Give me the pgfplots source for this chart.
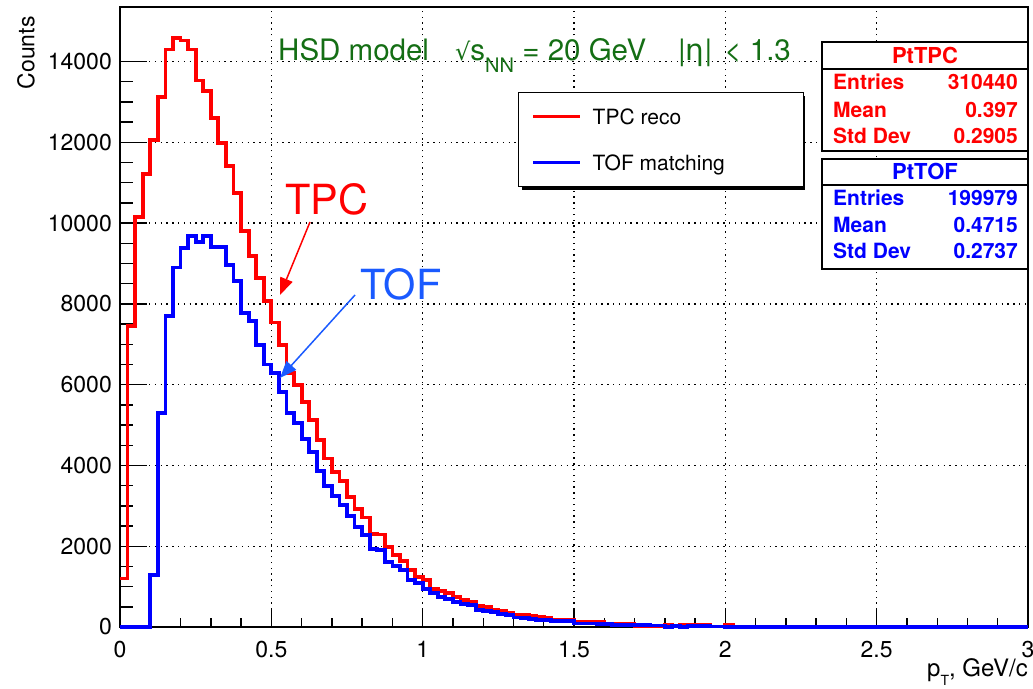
\documentclass[border=0pt]{standalone}
\usepackage{fontspec}
\setmainfont{TeX Gyre Heros}
\newfontfamily\dejavu{DejaVu Sans}
\usepackage{pgfplots}
\pgfplotsset{compat=1.18}
\usepackage{pgfplotstable}
\usetikzlibrary{arrows.meta}
\definecolor{histred}{RGB}{255,0,0}
\definecolor{histblue}{RGB}{0,0,255}
\definecolor{tofblue}{RGB}{26,90,255}
\definecolor{titlegreen}{RGB}{20,110,20}

\pgfplotstableread{
x tpc tof
0.000 1200 0
0.025 7460 0
0.050 10150 0
0.075 11220 0
0.100 12050 1290
0.125 13120 5290
0.150 14300 7700
0.175 14580 8900
0.200 14520 9380
0.225 14300 9680
0.250 13530 9540
0.275 13280 9680
0.300 12600 9400
0.325 11990 9400
0.350 11420 8960
0.375 10740 8570
0.400 9800 7780
0.425 9190 7570
0.450 8640 6980
0.475 8070 6500
0.500 7540 6280
0.525 6990 5810
0.550 6280 5300
0.575 5990 5055
0.600 5575 4660
0.625 5120 4330
0.650 4635 3855
0.675 4170 3490
0.700 3840 3250
0.725 3620 3030
0.750 3220 2740
0.775 2930 2478
0.800 2710 2272
0.825 2310 1941
0.850 2290 1916
0.875 1980 1611
0.900 1775 1512
0.925 1630 1404
0.950 1405 1156
0.975 1240 1090
1.000 1155 950
1.025 950 843
1.050 890 743
1.075 845 702
1.100 745 620
1.125 660 562
1.150 620 545
1.175 520 413
1.200 495 396
1.225 430 372
1.250 395 314
1.275 345 290
1.300 310 235
1.325 290 231
1.350 265 190
1.375 245 180
1.400 225 175
1.425 185 150
1.450 180 150
1.475 175 145
1.500 125 85
1.525 125 85
1.550 120 85
1.575 120 80
1.600 85 80
1.625 85 40
1.650 80 40
1.675 80 40
1.700 30 40
1.725 25 40
1.750 30 35
1.775 20 35
1.800 40 0
1.825 35 20
1.850 40 0
1.875 40 15
1.900 50 15
1.925 45 15
1.950 10 10
1.975 10 10
2.000 50 0
2.025 10 0
2.050 0 0
3.000 0 0
}\histdata

\begin{document}
\begin{tikzpicture}
\useasboundingbox (0,0) rectangle (1033pt,688pt);
% legend shadow (drawn beneath the legend box)
\begin{scope}[x=1pt,y=-1pt,shift={(0pt,688pt)}]
  \fill[black] (522,96) rectangle (805,190);
\end{scope}
\begin{axis}[
  scale only axis,
  width=908pt, height=620pt,
  at={(120pt,61pt)}, anchor=south west,
  xmin=0, xmax=3, ymin=0, ymax=15350,
  clip=false,
  xtick={0,0.5,...,3},
  ytick={0,2000,...,14000},
  minor x tick num=4,
  minor y tick num=3,
  tick pos=left,
  tick align=inside,
  xtick style={/pgfplots/major tick length=18pt,/pgfplots/minor tick length=9pt,line width=1.4pt,black},
  ytick style={/pgfplots/major tick length=27pt,/pgfplots/minor tick length=13.5pt,line width=1.4pt,black},
  axis line style={line width=1.6pt},
  grid=major,
  major grid style={black,line width=1.4pt,dash pattern=on 1.4pt off 4.4pt},
  scaled y ticks=false,
  /pgf/number format/.cd, 1000 sep={}, assume math mode=true, /pgfplots/.cd,
  tick label style={font=\fontsize{23}{23}\selectfont},
  xticklabel style={inner sep=0pt, yshift=-14pt},
  yticklabel style={inner sep=0pt, xshift=-8pt},
  xlabel={p\raisebox{-9pt}{\fontsize{14}{14}\selectfont T}, GeV/c},
  xlabel style={at={(axis description cs:1,-0.0806)}, anchor=base east, inner sep=0pt, font=\fontsize{24}{24}\selectfont},
  ylabel={Counts},
  ylabel style={at={(axis description cs:-0.0936,0.985)}, anchor=south east, inner sep=0pt, font=\fontsize{23}{23}\selectfont},
  legend image code/.code={\draw[#1,line width=3pt] (0pt,0pt) -- (47pt,0pt);},
  legend style={at={(0.4383,0.8629)}, anchor=north west, draw=black, line width=1.5pt, fill=white,
    inner xsep=13pt, inner ysep=14pt, row sep=26pt, column sep=11pt,
    font=\fontsize{21}{21}\selectfont,
    nodes={inner sep=0pt, text height=18pt, text depth=2pt}},
  legend cell align=left,
]
\addplot[const plot mark left, histred, line width=3.8pt] table[x=x,y=tpc]{\histdata};
\addlegendentry{\makebox[198pt][l]{TPC reco}}
\addplot[const plot mark left, histblue, line width=3.8pt] table[x=x,y=tof]{\histdata};
\addlegendentry{\makebox[198pt][l]{TOF matching}}
\end{axis}
\begin{scope}[x=1pt,y=-1pt,shift={(0pt,688pt)}]
  % title text
  \node[anchor=base west, inner sep=0pt, text=titlegreen, font=\fontsize{29.5}{30}\selectfont] at (278,61) {HSD model};
  \node[anchor=base west, inner sep=0pt, text=titlegreen, font=\fontsize{29.5}{30}\selectfont] at (455,61) {{\dejavu\fontsize{24}{24}\selectfont √}s\raisebox{-12pt}{\fontsize{20}{20}\selectfont NN} = 20 GeV};
  \node[anchor=base west, inner sep=0pt, text=titlegreen, font=\fontsize{29.5}{30}\selectfont] at (678,61) {|{\dejavu η}|\hspace{4pt} < 1.3};
  % stats box 1
  \draw[line width=1.5pt, fill=white] (822,42) rectangle (1028,151);
  \draw[line width=1.5pt] (822,69) -- (1028,69);
  \node[anchor=base, inner sep=0pt, text=histred, font=\bfseries\fontsize{22}{22}\selectfont] at (925,64) {PtTPC};
  \begin{scope}[every node/.style={inner sep=0pt, text=histred, font=\bfseries\fontsize{21}{21}\selectfont}]
    \node[anchor=base west] at (833,90) {Entries};
    \node[anchor=base east] at (1018,90) {310440};
    \node[anchor=base west] at (833,117.5) {Mean};
    \node[anchor=base east] at (1018,117.5) {0.397};
    \node[anchor=base west] at (833,143.5) {Std Dev};
    \node[anchor=base east] at (1018,143.5) {0.2905};
  \end{scope}
  % stats box 2
  \draw[line width=1.5pt, fill=white] (822,159) rectangle (1028,269);
  \draw[line width=1.5pt] (822,185) -- (1028,185);
  \node[anchor=base, inner sep=0pt, text=histblue, font=\bfseries\fontsize{22}{22}\selectfont] at (925,180) {PtTOF};
  \begin{scope}[every node/.style={inner sep=0pt, text=histblue, font=\bfseries\fontsize{21}{21}\selectfont}]
    \node[anchor=base west] at (833,205.5) {Entries};
    \node[anchor=base east] at (1018,205.5) {199979};
    \node[anchor=base west] at (833,232.5) {Mean};
    \node[anchor=base east] at (1018,232.5) {0.4715};
    \node[anchor=base west] at (833,258.5) {Std Dev};
    \node[anchor=base east] at (1018,258.5) {0.2737};
  \end{scope}
  % annotations
  \node[anchor=base west, inner sep=0pt, text=histred, font=\fontsize{41.5}{42}\selectfont] at (285,215) {TPC};
  \draw[histred, line width=1.5pt, -{Triangle[length=17pt,width=13pt]}] (310,222) -- (280,295);
  \node[anchor=base west, inner sep=0pt, text=tofblue, font=\fontsize{41.5}{42}\selectfont] at (360,300) {TOF};
  \draw[tofblue, line width=1.5pt, -{Triangle[length=17pt,width=13pt]}] (355,295) -- (280,378);
\end{scope}
\end{tikzpicture}
\end{document}
